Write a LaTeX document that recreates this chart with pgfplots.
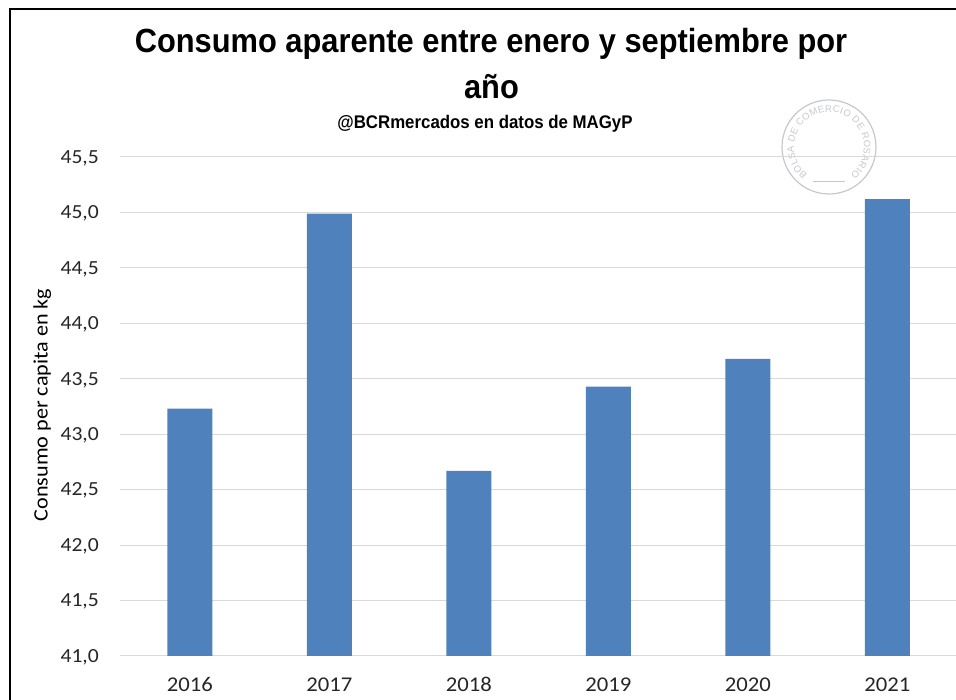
\documentclass[border=0pt]{standalone}
\usepackage{pgfplots}
\pgfplotsset{compat=1.18}
\usepackage{fontspec}
\setmainfont{Carlito}
\newfontfamily\titlefont[FakeStretch=0.92]{Liberation Sans}
\newfontfamily\labfont[FakeStretch=1.08]{Carlito}
\newfontfamily\sealfont{Liberation Sans}
\usetikzlibrary{decorations.text}
\definecolor{barblue}{HTML}{4F81BD}
\definecolor{gridgray}{HTML}{D9D9D9}
\definecolor{labgray}{HTML}{262626}
\definecolor{sealgray}{HTML}{C4C9CE}
\begin{document}
\begin{tikzpicture}[x=1bp,y=1bp]
\useasboundingbox (0,0) rectangle (956,700);
% frame
\draw[line width=2bp,black] (10,-20) -- (10,690.5) -- (990,690.5);
% titles
\node[anchor=base,inner sep=0pt,font=\titlefont\bfseries\fontsize{33.5bp}{36bp}\selectfont] at (491,647) {Consumo aparente entre enero y septiembre por};
\node[anchor=base,inner sep=0pt,font=\titlefont\bfseries\fontsize{33.5bp}{36bp}\selectfont] at (491.5,601) {año};
\node[anchor=base,inner sep=0pt,font=\titlefont\bfseries\fontsize{18.3bp}{20bp}\selectfont] at (485,571) {@BCRmercados en datos de MAGyP};
% watermark seal
\draw[sealgray,line width=1.2bp] (829,553) circle[radius=47];
\draw[sealgray,line width=0.8bp] (813,519) -- (845,519);
\path[decorate,decoration={text along path,text color=sealgray,text align=fit to path,
  text={|\sealfont\fontsize{9.5bp}{9.5bp}\selectfont|BOLSA DE COMERCIO DE ROSARIO}}]
  (829,553) ++(232:35) arc[start angle=232,end angle=-52,radius=35];
\begin{axis}[
  at={(120bp,44bp)}, anchor=south west,
  scale only axis, width=837bp, height=499bp,
  ymin=41, ymax=45.5,
  xmin=-0.5, xmax=5.5,
  ytick={41,41.5,...,45.5},
  xtick={0,1,2,3,4,5},
  xticklabels={2016,2017,2018,2019,2020,2021},
  ymajorgrids,
  major grid style={gridgray,line width=1bp},
  axis line style={draw=none},
  major tick length=0pt,
  /pgf/number format/.cd, use comma, fixed, fixed zerofill, precision=1, assume math mode=true,
  /pgfplots/.cd,
  yticklabel style={font=\labfont\fontsize{20bp}{20bp}\selectfont, text=labgray, anchor=base east, inner sep=0pt, xshift=-21bp, yshift=-6.3bp},
  xticklabel style={font=\labfont\fontsize{21bp}{21bp}\selectfont, text=labgray, anchor=base, inner sep=0pt, yshift=-36bp},
  ylabel={Consumo per capita en kg},
  ylabel style={font=\labfont\fontsize{20.5bp}{20.5bp}\selectfont, text=black, at={(axis description cs:-0.0864,0.503)}, anchor=base, inner sep=0pt},
  ybar, bar width=45bp, bar shift=0pt,
]
\addplot[fill=barblue, draw=none] coordinates {
  (0,43.23) (1,44.99) (2,42.67) (3,43.43) (4,43.68) (5,45.12)
};
\end{axis}
\end{tikzpicture}
\end{document}
